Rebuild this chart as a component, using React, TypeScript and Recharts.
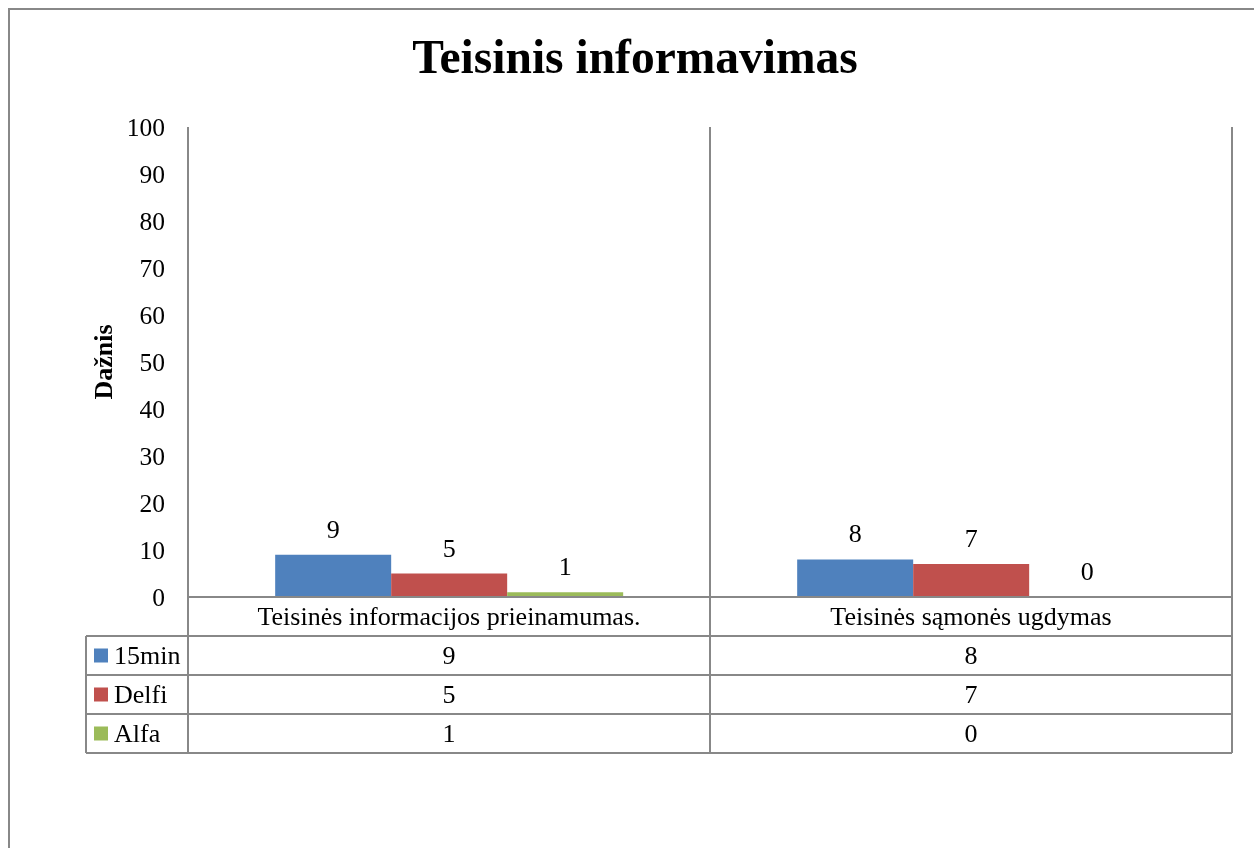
import { BarChart, Bar, XAxis, YAxis, CartesianGrid, LabelList, Customized } from 'recharts';

const categories = ['Teisinės informacijos prieinamumas.', 'Teisinės sąmonės ugdymas'];
const values15min = [9, 8];
const valuesDelfi = [5, 7];
const valuesAlfa = [1, 0];
const seriesNames = ['15min', 'Delfi', 'Alfa'];
const seriesKeys = ['s15min', 'delfi', 'alfa'];
const seriesColors = ['#4F81BD', '#C0504D', '#9BBB59'];
const yTicks = [0, 10, 20, 30, 40, 50, 60, 70, 80, 90, 100];

const data = categories.map((name, i) => ({
  name,
  s15min: values15min[i],
  delfi: valuesDelfi[i],
  alfa: valuesAlfa[i],
}));

const FONT = '"Liberation Serif", "Times New Roman", serif';
const FS = 26;
const LINE = '#888888';
const W = 1244;
const H = 826;
const MARGIN = { top: 117, right: 22, left: 0, bottom: 69 };
const Y_AXIS_W = 178;
const PLOT_W = W - MARGIN.left - MARGIN.right - Y_AXIS_W;
const ROW_H = 39;
const LEGEND_W = 102;

// one column of the data table under each category
const TableTick = (props: any) => {
  const { x, y, index, payload } = props;
  const half = PLOT_W / categories.length / 2;
  const left = x - half;
  const right = x + half;
  const bottom = y + ROW_H * (seriesNames.length + 1);
  const rows = [values15min, valuesDelfi, valuesAlfa];
  return (
    <g>
      <line x1={left} x2={left} y1={y} y2={bottom} stroke={LINE} strokeWidth={2} />
      <line x1={right} x2={right} y1={y} y2={bottom} stroke={LINE} strokeWidth={2} />
      {[1, 2, 3, 4].map((r) => (
        <line key={r} x1={left} x2={right} y1={y + r * ROW_H} y2={y + r * ROW_H} stroke={LINE} strokeWidth={2} />
      ))}
      <text x={x} y={y + ROW_H / 2} textAnchor="middle" dominantBaseline="central" fontFamily={FONT} fontSize={FS} fill="#000">
        {payload.value}
      </text>
      {rows.map((vals, r) => (
        <text key={r} x={x} y={y + ROW_H * (r + 1.5)} textAnchor="middle" dominantBaseline="central" fontFamily={FONT} fontSize={FS} fill="#000">
          {vals[index]}
        </text>
      ))}
      {index === 0 && (
        <g>
          <line x1={left - LEGEND_W} x2={left - LEGEND_W} y1={y + ROW_H} y2={bottom} stroke={LINE} strokeWidth={2} />
          {[1, 2, 3, 4].map((r) => (
            <line key={r} x1={left - LEGEND_W} x2={left} y1={y + r * ROW_H} y2={y + r * ROW_H} stroke={LINE} strokeWidth={2} />
          ))}
          {seriesNames.map((s, r) => (
            <g key={s}>
              <rect x={left - LEGEND_W + 8} y={y + ROW_H * (r + 1.5) - 7} width={14} height={14} fill={seriesColors[r]} />
              <text x={left - LEGEND_W + 28} y={y + ROW_H * (r + 1.5)} dominantBaseline="central" fontFamily={FONT} fontSize={FS} fill="#000">
                {s}
              </text>
            </g>
          ))}
        </g>
      )}
    </g>
  );
};

const ValueLabel = (props: any) => {
  const { x, y, width, value } = props;
  return (
    <text x={x + width / 2} y={y - 17} textAnchor="middle" fontFamily={FONT} fontSize={FS} fill="#000">
      {value}
    </text>
  );
};

const Titles = () => (
  <g>
    <text x={625} y={63} textAnchor="middle" fontFamily={FONT} fontSize={47.5} fontWeight="bold" fill="#000">
      Teisinis informavimas
    </text>
    <text
      x={93}
      y={352}
      transform="rotate(-90 93 352)"
      textAnchor="middle"
      dominantBaseline="central"
      fontFamily={FONT}
      fontSize={FS}
      fontWeight="bold"
      fill="#000"
    >
      Dažnis
    </text>
  </g>
);

export default function App() {
  return (
    <div style={{ width: W, height: H, position: 'relative', background: '#fff' }}>
      {/* frame continues past the window edges, like the cropped original */}
      <div
        style={{
          position: 'fixed',
          left: 8,
          top: 8,
          width: 1260,
          height: 860,
          borderTop: `2px solid ${LINE}`,
          borderLeft: `2px solid ${LINE}`,
          pointerEvents: 'none',
        }}
      />
      <div style={{ position: 'absolute', left: 2, top: 2 }}>
        <BarChart width={W} height={H} data={data} margin={MARGIN} barCategoryGap="16.7%" barGap={0}>
          <CartesianGrid
            horizontal={false}
            stroke={LINE}
            strokeWidth={2}
            verticalCoordinatesGenerator={({ offset }: any) =>
              categories.map((_, i) => offset.left + (offset.width * i) / categories.length).concat(offset.left + offset.width)
            }
          />
          <XAxis
            dataKey="name"
            height={170}
            interval={0}
            tickLine={false}
            tickSize={0}
            tickMargin={0}
            axisLine={{ stroke: LINE, strokeWidth: 2 }}
            tick={<TableTick />}
          />
          <YAxis
            width={Y_AXIS_W}
            domain={[0, 100]}
            ticks={yTicks}
            interval={0}
            axisLine={false}
            tickLine={false}
            tickSize={0}
            tickMargin={23}
            tick={{ fontSize: 25.5, fill: '#000', fontFamily: FONT }}
          />
          {seriesKeys.map((k, i) => (
            <Bar
              key={k}
              dataKey={k}
              name={seriesNames[i]}
              fill={seriesColors[i]}
              minPointSize={(v: any) => (v === 0 ? 0.01 : 0)}
              isAnimationActive={false}
            >
              <LabelList dataKey={k} content={<ValueLabel />} />
            </Bar>
          ))}
          <Customized component={Titles} />
        </BarChart>
      </div>
    </div>
  );
}
